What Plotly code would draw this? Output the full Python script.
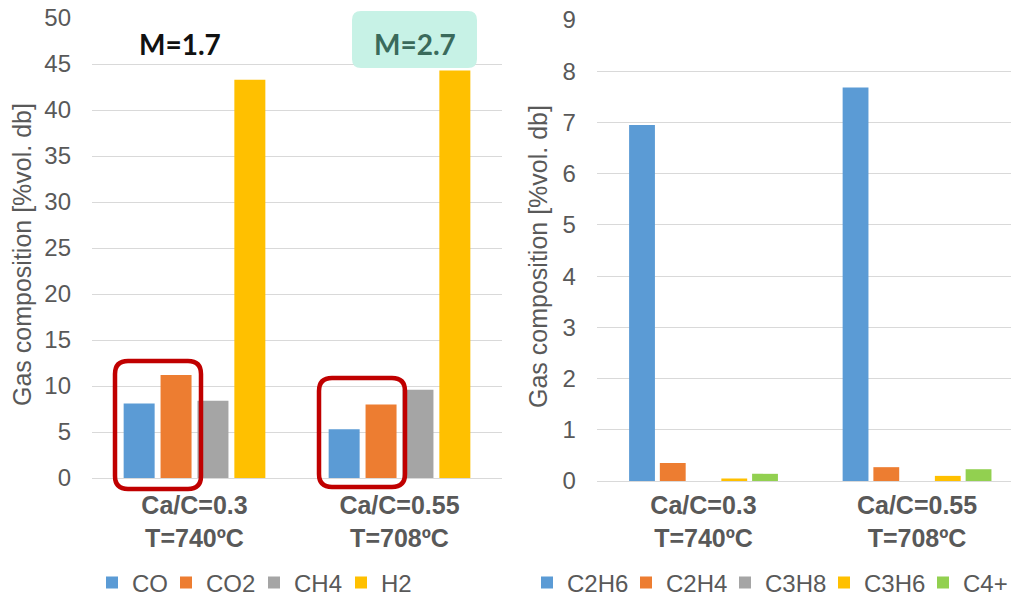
import plotly.graph_objects as go

# ---------------- data ----------------
ca_c = ["Ca/C=0.3", "Ca/C=0.55"]
temps = ["T=740ºC", "T=708ºC"]

main_gases = ["CO", "CO2", "CH4", "H2"]
co = [8.1, 5.3]
co2 = [11.2, 8.0]
ch4 = [8.4, 9.6]
h2 = [43.3, 44.3]

hc_gases = ["C2H6", "C2H4", "C3H8", "C3H6", "C4+"]
c2h6 = [6.95, 7.68]
c2h4 = [0.35, 0.27]
c3h8 = [0.0, 0.0]
c3h6 = [0.05, 0.10]
c4p = [0.14, 0.23]

m_labels = ["M=1.7", "M=2.7"]
left_ticks = [0, 5, 10, 15, 20, 25, 30, 35, 40, 45, 50]
right_ticks = [0, 1, 2, 3, 4, 5, 6, 7, 8, 9]
y_title = "Gas composition [%vol. db]"

# ---------------- style ----------------
W, H = 1011, 598
FONT = "Liberation Sans, Arial, sans-serif"
GREY = "#595959"
GRID = "#D9D9D9"
main_colors = ["#5B9BD5", "#ED7D31", "#A5A5A5", "#FFC000"]
hc_colors = ["#5B9BD5", "#ED7D31", "#A5A5A5", "#FFC000", "#92D050"]

cats = [f"<b>{a}</b><br><b>{t}</b>" for a, t in zip(ca_c, temps)]

def px(xp):
    return xp / W

def py(yp):
    return 1 - yp / H

fig = go.Figure()

main_vals = [co, co2, ch4, h2]
main_lw = [29, 43, 42, 40]
for name, vals, col, lw in zip(main_gases, main_vals, main_colors, main_lw):
    fig.add_trace(go.Bar(x=cats, y=vals, name=name, marker=dict(color=col, line=dict(width=0)),
                         xaxis="x", yaxis="y", legend="legend", legendwidth=lw))

hc_vals = [c2h6, c2h4, c3h8, c3h6, c4p]
hc_lw = [54, 54, 54, 54, 46]
for name, vals, col, lw in zip(hc_gases, hc_vals, hc_colors, hc_lw):
    fig.add_trace(go.Bar(x=cats, y=vals, name=name, marker=dict(color=col, line=dict(width=0)),
                         xaxis="x2", yaxis="y2", legend="legend2", legendwidth=lw))

axis_common = dict(showgrid=False, showline=False, zeroline=False, ticks="", automargin=False,
                   tickfont=dict(family=FONT, size=25, color=GREY))
yaxis_common = dict(showgrid=True, gridcolor=GRID, gridwidth=1, zeroline=True, automargin=False,
                    zerolinecolor=GRID, zerolinewidth=1, showline=False, ticks="",
                    tickfont=dict(family=FONT, size=24, color=GREY), ticklabelstandoff=20)

fig.update_layout(
    width=W, height=H,
    margin=dict(l=0, r=0, t=0, b=0, autoexpand=False),
    paper_bgcolor="white", plot_bgcolor="white",
    barmode="group", bargap=0.28, bargroupgap=0.16,
    font=dict(family=FONT, color=GREY),
    xaxis=dict(domain=[px(92), px(502)], range=[-0.5, 1.5], anchor="y",
               ticklabelstandoff=10, **axis_common),
    yaxis=dict(domain=[py(478), py(18)], range=[0, 50], tickvals=left_ticks,
               anchor="x", **yaxis_common),
    xaxis2=dict(domain=[px(596.75), 1.0], range=[-0.5, 1.44], anchor="y2",
                ticklabelstandoff=7, **axis_common),
    yaxis2=dict(domain=[py(481), py(20)], range=[0, 9], tickvals=right_ticks,
                anchor="x2", **yaxis_common),
    legend=dict(orientation="h", x=px(92), xanchor="left", y=py(583), yanchor="middle",
                font=dict(family=FONT, size=24, color=GREY), bgcolor="rgba(0,0,0,0)",
                traceorder="normal", itemclick=False),
    legend2=dict(orientation="h", x=px(527), xanchor="left", y=py(583), yanchor="middle",
                 font=dict(family=FONT, size=24, color=GREY), bgcolor="rgba(0,0,0,0)",
                 traceorder="normal", itemclick=False),
    showlegend=True,
)

def rounded_rect(x0, y0, x1, y1, r):
    # pixel coordinates -> paper path
    X = lambda v: f"{px(v):.5f}"
    Y = lambda v: f"{py(v):.5f}"
    return (f"M {X(x0 + r)},{Y(y0)} L {X(x1 - r)},{Y(y0)} Q {X(x1)},{Y(y0)} {X(x1)},{Y(y0 + r)} "
            f"L {X(x1)},{Y(y1 - r)} Q {X(x1)},{Y(y1)} {X(x1 - r)},{Y(y1)} "
            f"L {X(x0 + r)},{Y(y1)} Q {X(x0)},{Y(y1)} {X(x0)},{Y(y1 - r)} "
            f"L {X(x0)},{Y(y0 + r)} Q {X(x0)},{Y(y0)} {X(x0 + r)},{Y(y0)} Z")

# red highlight boxes
fig.add_shape(type="path", xref="paper", yref="paper", path=rounded_rect(115, 361, 201, 489, 13),
              line=dict(color="#C00000", width=4.5), layer="above")
fig.add_shape(type="path", xref="paper", yref="paper", path=rounded_rect(319, 378, 405, 487, 13),
              line=dict(color="#C00000", width=4.5), layer="above")
# teal box
fig.add_shape(type="path", xref="paper", yref="paper", path=rounded_rect(352, 11, 477, 68, 9),
              line=dict(width=0), fillcolor="#C7F2E6", layer="above")

fig.add_annotation(xref="paper", yref="paper", x=px(180), y=py(44), xanchor="center", yanchor="middle",
                   text=f"<b>{m_labels[0]}</b>", showarrow=False,
                   font=dict(family="Lato, sans-serif", size=28, color="#111111"))
fig.add_annotation(xref="paper", yref="paper", x=px(415), y=py(44), xanchor="center", yanchor="middle",
                   text=f"<b>{m_labels[1]}</b>", showarrow=False,
                   font=dict(family="Lato, sans-serif", size=28, color="#3A6A5B"))

# axis titles
fig.add_annotation(xref="paper", yref="paper", x=px(22), y=py(255), xanchor="center", yanchor="middle",
                   text=y_title, textangle=-90, showarrow=False,
                   font=dict(family=FONT, size=25, color=GREY))
fig.add_annotation(xref="paper", yref="paper", x=px(538), y=py(257), xanchor="center", yanchor="middle",
                   text=y_title, textangle=-90, showarrow=False,
                   font=dict(family=FONT, size=25, color=GREY))

fig.write_html("out.html", config={"displayModeBar": False},
               post_script="document.body.style.margin='0px';document.body.style.overflow='hidden';")
